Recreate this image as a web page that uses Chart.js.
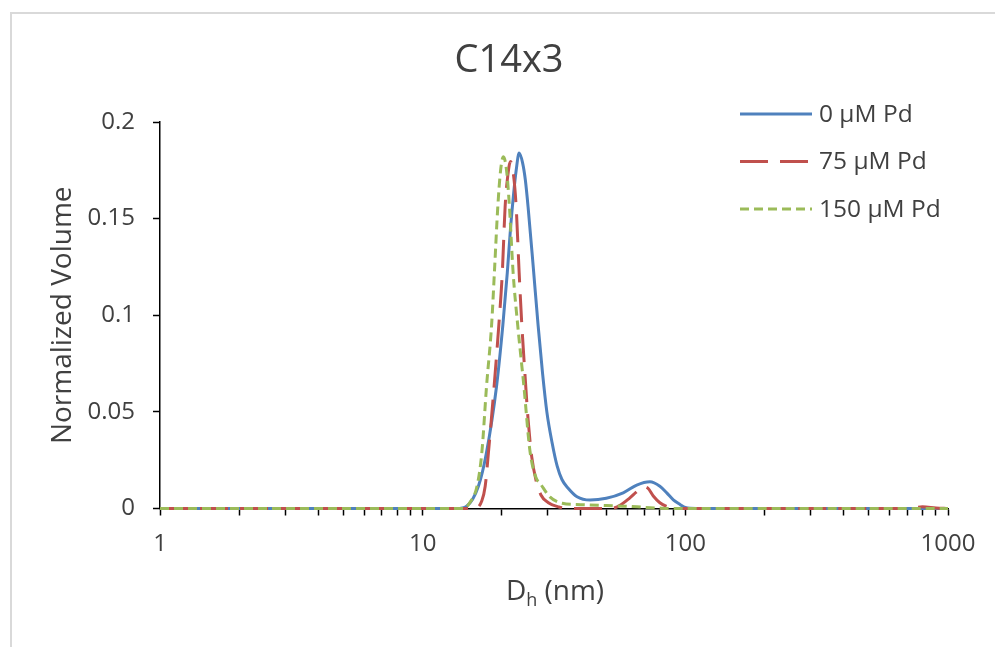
<!DOCTYPE html>
<html>
<head>
<meta charset="utf-8">
<script src="https://cdn.jsdelivr.net/npm/chart.js@4.4.1/dist/chart.umd.min.js"></script>
<style>
  html, body { margin: 0; padding: 0; background: #fff; }
  #wrap { position: relative; width: 995px; height: 647px; overflow: hidden; }
  #frame { position: absolute; left: 10px; top: 12px; width: 1000px; height: 700px;
           border-left: 2px solid #d9d9d9; border-top: 2px solid #d9d9d9; }
  #chart { position: absolute; left: 0; top: 0; }
</style>
</head>
<body>
<div id="wrap">
  <div id="frame"></div>
  <canvas id="chart" width="995" height="647"></canvas>
</div>
<script>
// hydrodynamic diameter (nm) and normalized volume
const size0 = [1, 10, 13.5, 14.7, 16.3, 17.5, 19.1, 20.2, 21.0, 21.6, 22.2, 22.7, 23.3, 24.0, 24.6, 25.2, 26.4, 27.5, 28.6, 29.7, 31.1, 32.5, 33.9, 35.8, 38.7, 43.4, 50, 58, 65.3, 73.3, 80, 85, 90, 95.5, 100, 110, 1000];
const vol0  = [0, 0, 0, 0.0012, 0.0115, 0.029, 0.063, 0.095, 0.122, 0.145, 0.163, 0.175, 0.184, 0.179, 0.170, 0.156, 0.124, 0.095, 0.070, 0.050, 0.034, 0.022, 0.015, 0.0105, 0.0061, 0.0044, 0.0053, 0.0081, 0.0121, 0.0138, 0.0115, 0.0081, 0.0045, 0.0021, 0.0005, 0, 0];

const size75 = [1, 10, 15.8, 16.8, 17.3, 17.8, 18.7, 19.5, 20.1, 20.6, 21.0, 21.6, 22.2, 22.7, 23.3, 23.85, 24.5, 25.2, 26.0, 27.0, 28.2, 30.1, 33, 36, 50, 55, 61.5, 65, 69, 72, 75.5, 80, 85, 90, 700, 800, 900, 1000];
const vol75  = [0, 0, 0, 0.004, 0.0115, 0.029, 0.063, 0.095, 0.122, 0.156, 0.170, 0.1795, 0.172, 0.156, 0.122, 0.095, 0.070, 0.046, 0.027, 0.0147, 0.007, 0.003, 0.0008, 0, 0, 0.0008, 0.0055, 0.0085, 0.0112, 0.0105, 0.0065, 0.003, 0.001, 0, 0, 0.0009, 0.0003, 0];

const size150 = [1, 10, 14.3, 15.1, 16.1, 16.8, 17.5, 18.3, 18.8, 19.3, 19.8, 20.3, 20.9, 21.4, 22.1, 23.0, 24.3, 25.6, 27.0, 28.0, 30.5, 34, 40, 50, 60, 70, 80, 90, 1000];
const vol150  = [0, 0, 0, 0.003, 0.0115, 0.029, 0.063, 0.095, 0.125, 0.155, 0.175, 0.182, 0.174, 0.156, 0.122, 0.095, 0.063, 0.030, 0.016, 0.013, 0.006, 0.0027, 0.002, 0.0015, 0.0012, 0.0006, 0.0002, 0, 0];

const seriesNames = ["0 μM Pd", "75 μM Pd", "150 μM Pd"];
const xMajorTicks = [1, 10, 100, 1000];
const xAllTicks = [1, 2, 3, 4, 5, 6, 7, 8, 9, 10, 20, 30, 40, 50, 60, 70, 80, 90, 100, 200, 300, 400, 500, 600, 700, 800, 900, 1000];
const yTicks = [0, 0.05, 0.1, 0.15, 0.2];

const FONT = "'Open Sans', 'DejaVu Sans', sans-serif";
const TXT = "#404040";

const colors = ["#4F81BD", "#C0504D", "#9BBB59"];
const dashes = [[], [28, 12], [9, 5]];

const toPoints = (xs, ys) => xs.map((x, i) => ({ x: x, y: ys[i] }));

const datasets = [
  { label: seriesNames[0], data: toPoints(size0, vol0), order: 3 },
  { label: seriesNames[1], data: toPoints(size75, vol75), order: 2 },
  { label: seriesNames[2], data: toPoints(size150, vol150), order: 1 }
].map((d, i) => Object.assign(d, {
  borderColor: colors[i],
  backgroundColor: colors[i],
  borderWidth: 3,
  borderDash: dashes[i],
  pointRadius: 0,
  pointHoverRadius: 0,
  cubicInterpolationMode: "monotone",
  fill: false,
  clip: false
}));

// title, x axis title with subscript, legend in the top right
const decor = {
  id: "decor",
  afterDraw(chart) {
    const ctx = chart.ctx;
    ctx.save();
    ctx.fillStyle = TXT;
    ctx.textBaseline = "middle";
    ctx.textAlign = "center";
    ctx.font = "38px " + FONT;
    ctx.fillText("C14x3", 509, 61);

    // D_h (nm)
    ctx.textBaseline = "alphabetic";
    ctx.textAlign = "left";
    ctx.font = "28px " + FONT;
    const wD = ctx.measureText("D").width;
    ctx.font = "18px " + FONT;
    const wh = ctx.measureText("h").width;
    ctx.font = "28px " + FONT;
    const wRest = ctx.measureText(" (nm)").width;
    let x0 = 555 - (wD + wh + wRest) / 2;
    ctx.fillText("D", x0, 600);
    ctx.font = "18px " + FONT;
    ctx.fillText("h", x0 + wD, 606);
    ctx.font = "28px " + FONT;
    ctx.fillText(" (nm)", x0 + wD + wh, 600);

    // legend
    const rows = [114, 161.5, 209];
    ctx.textBaseline = "middle";
    ctx.font = "24.5px " + FONT;
    chart.data.datasets.forEach((ds, i) => {
      ctx.beginPath();
      ctx.setLineDash(ds.borderDash);
      ctx.lineWidth = 3;
      ctx.strokeStyle = ds.borderColor;
      ctx.moveTo(740, rows[i]);
      ctx.lineTo(812, rows[i]);
      ctx.stroke();
      ctx.setLineDash([]);
      ctx.fillStyle = TXT;
      ctx.fillText(ds.label, 819, rows[i] + 1);
    });
    ctx.restore();
  }
};

new Chart(document.getElementById("chart"), {
  type: "line",
  data: { datasets: datasets },
  plugins: [decor],
  options: {
    responsive: false,
    animation: false,
    events: [],
    layout: { padding: { left: 0, right: 47, top: 122, bottom: 0 } },
    plugins: {
      legend: { display: false },
      title: { display: false },
      tooltip: { enabled: false }
    },
    scales: {
      x: {
        type: "logarithmic",
        min: 1,
        max: 1000,
        afterFit: (s) => { s.height = 138.5; },
        afterBuildTicks: (s) => { s.ticks = xAllTicks.map(v => ({ value: v })); },
        border: { color: "#000", width: 1.5 },
        grid: { display: true, drawOnChartArea: false, drawTicks: true, tickLength: 7, tickColor: "#000", tickWidth: 1.5 },
        ticks: {
          autoSkip: false,
          maxRotation: 0,
          padding: 14,
          color: TXT,
          font: { family: FONT, size: 24 },
          callback: (v) => xMajorTicks.includes(v) ? String(v) : ""
        }
      },
      y: {
        min: 0,
        max: 0.2,
        afterFit: (s) => { s.width = 160; },
        afterBuildTicks: (s) => { s.ticks = yTicks.map(v => ({ value: v })); },
        border: { color: "#000", width: 1.5 },
        grid: { display: true, drawOnChartArea: false, drawTicks: true, tickLength: 7, tickColor: "#000", tickWidth: 1.5 },
        ticks: {
          padding: 18,
          color: TXT,
          font: { family: FONT, size: 24 },
          callback: (v) => String(v)
        },
        title: {
          display: true,
          text: "Normalized Volume",
          color: TXT,
          font: { family: FONT, size: 28 },
          padding: { top: 46, bottom: 0 }
        }
      }
    }
  }
});
</script>
</body>
</html>
